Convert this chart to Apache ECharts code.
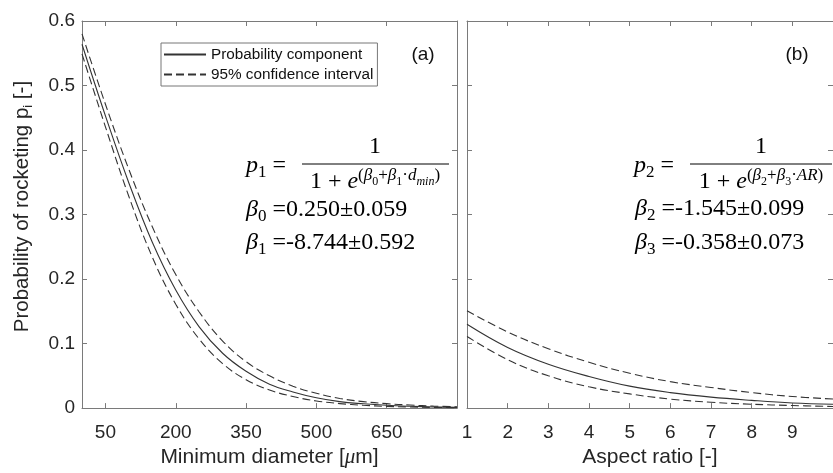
<!DOCTYPE html>
<html>
<head>
<meta charset="utf-8">
<script src="https://cdn.jsdelivr.net/npm/echarts@6/dist/echarts.min.js"></script>
<style>html,body{margin:0;padding:0;background:#fff;}#c{width:833px;height:473px;}</style>
</head>
<body>
<div id="c"></div>
<script>
// ---- data ----
const diam = [0, 50, 100, 150, 200, 250, 300, 350, 400, 450, 500, 550, 600, 650, 700, 750, 800];
const p1 = [0.564, 0.453, 0.349, 0.257, 0.183, 0.126, 0.085, 0.057, 0.037, 0.025, 0.016, 0.010, 0.0067, 0.0043, 0.0028, 0.0018, 0.0012];
const p1Upper = [0.580, 0.471, 0.370, 0.281, 0.207, 0.149, 0.104, 0.072, 0.050, 0.034, 0.023, 0.015, 0.010, 0.0069, 0.0047, 0.0031, 0.0021];
const p1Lower = [0.549, 0.436, 0.328, 0.234, 0.161, 0.107, 0.069, 0.044, 0.028, 0.018, 0.011, 0.007, 0.0044, 0.0027, 0.0017, 0.0011, 0.0007];

const aspect = [1, 2, 3, 4, 5, 6, 7, 8, 9, 10];
const p2 = [0.130, 0.094, 0.068, 0.049, 0.034, 0.024, 0.017, 0.012, 0.008, 0.006];
const p2Upper = [0.151, 0.118, 0.092, 0.071, 0.054, 0.041, 0.032, 0.024, 0.018, 0.014];
const p2Lower = [0.111, 0.075, 0.050, 0.033, 0.022, 0.014, 0.009, 0.006, 0.004, 0.0025];

const xTicksDiam = [50, 200, 350, 500, 650];
const xTicksAspect = [1, 2, 3, 4, 5, 6, 7, 8, 9];

const seriesNames = ['Probability component', '95% confidence interval'];
const xNames = ['Minimum diameter [', 'Aspect ratio [-]'];

// ---- styling ----
const axisColor = '#7a7a7a';
const textColor = '#262626';
const lineColor = '#333333';
const sans = 'Liberation Sans, Arial, sans-serif';
const serif = 'Liberation Serif, Times New Roman, serif';

function pairs(xs, ys) { return xs.map((x, i) => [x, ys[i]]); }

function xAx(gridIndex, pos, min, max, ticks, showLabel, name) {
  const a = {
    type: 'value', gridIndex, position: pos, min, max,
    splitLine: { show: false },
    axisLine: { show: true, onZero: false, lineStyle: { color: axisColor, width: 1 } },
    axisTick: { show: true, inside: true, length: 5, customValues: ticks, lineStyle: { color: axisColor } },
    axisLabel: { show: showLabel, customValues: ticks, margin: 15, color: textColor, fontSize: 19, fontFamily: sans },
  };
  if (name) {
    a.name = name;
    a.nameLocation = 'middle';
    a.nameGap = 37;
    a.nameTextStyle = { color: textColor, fontSize: 21, fontFamily: sans,
      rich: { a: { color: textColor, fontSize: 21, fontFamily: sans },
              m: { color: textColor, fontSize: 21, fontFamily: serif, fontStyle: 'italic' } } };
  }
  return a;
}
function yAx(gridIndex, pos, showLabel, name) {
  const a = {
    type: 'value', gridIndex, position: pos, min: 0, max: 0.6, interval: 0.1,
    splitLine: { show: false },
    axisLine: { show: true, onZero: false, lineStyle: { color: axisColor, width: 1 } },
    axisTick: { show: true, inside: true, length: 5, lineStyle: { color: axisColor } },
    axisLabel: { show: showLabel, margin: 7, color: textColor, fontSize: 19, fontFamily: sans,
      formatter: v => (v === 0 ? '0' : v.toFixed(1)) },
  };
  if (name) {
    a.name = name;
    a.nameLocation = 'middle';
    a.nameGap = 47;
    a.nameRotate = 90;
    a.nameTextStyle = { color: textColor, fontSize: 20.5, fontFamily: sans, padding: [0, 0, 0, 16],
      rich: { a: { color: textColor, fontSize: 20.5, fontFamily: sans, lineHeight: 26 },
              s: { color: textColor, fontSize: 13, fontFamily: sans, lineHeight: 14, verticalAlign: 'bottom' } } };
  }
  return a;
}

function line(name, xi, yi, data, dashed) {
  return {
    type: 'line', name, xAxisIndex: xi, yAxisIndex: yi, data,
    showSymbol: false, symbol: 'none', smooth: 0.4,
    lineStyle: { color: lineColor, width: 1.1, type: dashed ? [8, 4] : 'solid' },
    itemStyle: { color: lineColor },
    emphasis: { disabled: true }, silent: true, z: 2,
  };
}

const richF = {
  n:   { fontFamily: serif, fontSize: 24, color: '#000', lineHeight: 30 },
  it:  { fontFamily: serif, fontSize: 24, color: '#000', fontStyle: 'italic', lineHeight: 30 },
  sub: { fontFamily: serif, fontSize: 17, color: '#000', lineHeight: 18, verticalAlign: 'bottom' },
  sup: { fontFamily: serif, fontSize: 17, color: '#000', lineHeight: 18, verticalAlign: 'top' },
  supit: { fontFamily: serif, fontSize: 17, color: '#000', fontStyle: 'italic', lineHeight: 18, verticalAlign: 'top' },
  ss:  { fontFamily: serif, fontSize: 12, color: '#000', lineHeight: 12 },
  ssit:{ fontFamily: serif, fontSize: 12, color: '#000', fontStyle: 'italic', lineHeight: 12 },
};
function txt(x, y, text, align) {
  return { type: 'text', x, y, z: 10,
    style: { text, rich: richF, align: align || 'left', verticalAlign: 'middle', fill: '#000', font: '24px ' + serif } };
}
function hline(x1, x2, y) {
  return { type: 'line', z: 10, shape: { x1, y1: y, x2, y2: y }, style: { stroke: '#000', lineWidth: 1 } };
}

const chart = echarts.init(document.getElementById('c'), null, { renderer: 'canvas' });
chart.setOption({
  animation: false,
  backgroundColor: '#fff',
  grid: [
    { left: 82, top: 21, width: 375, height: 392 },
    { left: 467, top: 21, width: 377, height: 392 },
  ],
  xAxis: [
    xAx(0, 'bottom', 0, 800, xTicksDiam, true, '{a|' + xNames[0] + '}{m|μ}{a|m]}'),
    xAx(0, 'top', 0, 800, xTicksDiam, false),
    xAx(1, 'bottom', 1, 10, xTicksAspect, true, xNames[1]),
    xAx(1, 'top', 1, 10, xTicksAspect, false),
  ],
  yAxis: [
    yAx(0, 'left', true, '{a|Probability of rocketing p}{s|i}{a| [-]}'),
    yAx(0, 'right', false),
    yAx(1, 'left', false),
    yAx(1, 'right', false),
  ],
  legend: {
    left: 161, top: 43, orient: 'vertical', selectedMode: false,
    itemWidth: 42, itemHeight: 14, itemGap: 5,
    padding: [4, 4, 4, 2],
    borderColor: '#777', borderWidth: 1, backgroundColor: '#fff',
    itemStyle: { opacity: 0 },
    textStyle: { color: '#111', fontSize: 15.3, fontFamily: sans },
    data: seriesNames,
    z: 5,
  },
  series: [
    line(seriesNames[0], 0, 0, pairs(diam, p1), false),
    line(seriesNames[1], 0, 0, pairs(diam, p1Upper), true),
    line(seriesNames[1], 0, 0, pairs(diam, p1Lower), true),
    line(seriesNames[0], 2, 2, pairs(aspect, p2), false),
    line(seriesNames[1], 2, 2, pairs(aspect, p2Upper), true),
    line(seriesNames[1], 2, 2, pairs(aspect, p2Lower), true),
  ],
  graphic: [
    { type: 'text', x: 423, y: 55, z: 10, style: { text: '(a)', align: 'center', verticalAlign: 'middle', fill: '#111', font: '19px ' + sans } },
    { type: 'text', x: 797, y: 55, z: 10, style: { text: '(b)', align: 'center', verticalAlign: 'middle', fill: '#111', font: '19px ' + sans } },
    // panel (a) formula
    txt(246, 166, '{it|p}{sub|1}{n| =}'),
    txt(375, 147, '{n|1}', 'center'),
    hline(302, 449, 164),
    txt(375, 182, '{n|1 + }{it|e}{sup|(}{supit|β}{ss|0}{sup|+}{supit|β}{ss|1}{sup|·}{supit|d}{ssit|min}{sup|)}', 'center'),
    txt(246, 210, '{it|β}{sub|0}{n| =0.250±0.059}'),
    txt(246, 243, '{it|β}{sub|1}{n| =-8.744±0.592}'),
    // panel (b) formula
    txt(634, 166, '{it|p}{sub|2}{n| =}'),
    txt(761, 147, '{n|1}', 'center'),
    hline(690, 832, 164),
    txt(761, 182, '{n|1 + }{it|e}{sup|(}{supit|β}{ss|2}{sup|+}{supit|β}{ss|3}{sup|·}{supit|AR}{sup|)}', 'center'),
    txt(635, 209, '{it|β}{sub|2}{n| =-1.545±0.099}'),
    txt(635, 243, '{it|β}{sub|3}{n| =-0.358±0.073}'),
  ],
});
</script>
</body>
</html>
